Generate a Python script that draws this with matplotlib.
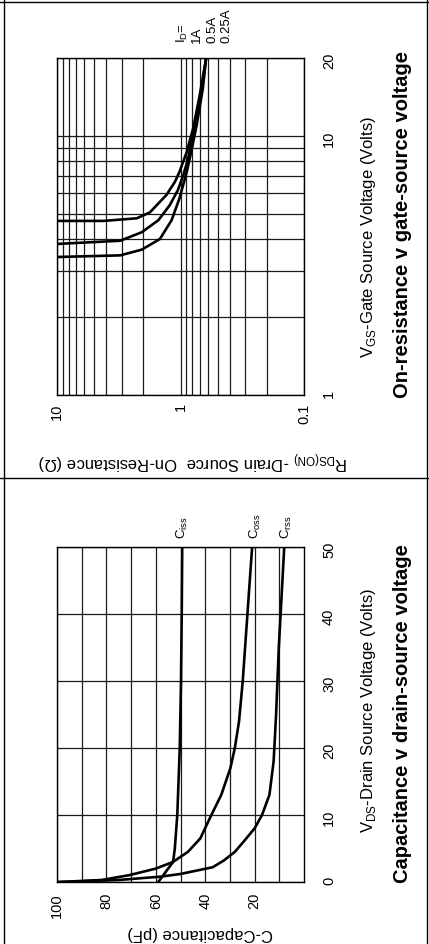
import matplotlib
matplotlib.use("Agg")
import matplotlib.pyplot as plt
from matplotlib.lines import Line2D
from matplotlib.ticker import FixedLocator, NullFormatter

plt.rcParams['font.family'] = ['Liberation Sans', 'DejaVu Sans']
plt.rcParams['mathtext.fontset'] = 'custom'
plt.rcParams['mathtext.rm'] = 'Liberation Sans'

# ---- Capacitance vs drain-source voltage ----
vds_ciss = [0, 1, 2, 3, 5, 10, 20, 30, 40, 50]
ciss = [59, 57, 55, 53, 52.3, 51.3, 50.3, 49.8, 49.5, 49.3]
vds_coss = [0, 0.3, 1, 2, 3, 4.5, 6.5, 10, 13, 17, 20, 24, 30, 40, 50]
coss = [99, 82, 71, 60, 53, 47, 42, 37.5, 33.5, 29.8, 28, 26.3, 24.8, 22.9, 21]
vds_crss = [0, 0.3, 0.8, 1.2, 2.2, 3.2, 4.5, 6, 8, 10, 13, 18, 25, 35, 50]
crss = [99, 75, 58, 50, 37, 32.5, 28, 24.5, 20, 17, 14, 12.3, 11.3, 10.2, 8]
cap_ticks = [100, 80, 60, 40, 20]
vds_ticks = [0, 10, 20, 30, 40, 50]

# ---- On-resistance vs gate-source voltage ----
vgs_1a = [4.70, 4.70, 4.81, 5.07, 5.92, 6.65, 7.26, 8.67, 10.7, 14.3, 20]
rds_1a = [10, 4.2, 2.26, 1.77, 1.30, 1.11, 1.02, 0.89, 0.79, 0.70, 0.62]
vgs_05a = [3.83, 3.94, 4.25, 4.73, 5.41, 6.18, 7.06, 8.12, 11.0, 14.7, 20]
rds_05a = [10, 3.08, 2.06, 1.51, 1.22, 1.05, 0.95, 0.87, 0.77, 0.68, 0.62]
vgs_025a = [3.41, 3.46, 3.64, 4.0, 4.73, 5.74, 7.26, 8.67, 11.0, 15.2, 20]
rds_025a = [10, 3.08, 2.06, 1.47, 1.18, 1.02, 0.89, 0.82, 0.74, 0.66, 0.62]
rds_ticks = [10, 1, 0.1]
rds_tick_labels = ["10", "1", "0.1"]
vgs_ticks = [1, 10, 20]
id_labels = ["I$_{\\mathregular{D}}$=", "1A", "0.5A", "0.25A"]

W, H = 429, 944
fig = plt.figure(figsize=(W / 100, H / 100), dpi=100)

def fx(px):
    return px / W

def fy(py):
    return 1 - py / H

GRID = dict(color='#1a1a1a', linewidth=0.9)
TICKFS = 10.5
LABFS = 12

# ---------- top panel: on-resistance ----------
axr = fig.add_axes([fx(57), fy(395), fx(304) - fx(57), fy(58) - fy(395)])
axr.set_xscale('log')
axr.set_yscale('log')
axr.set_xlim(10, 0.1)
axr.set_ylim(1, 20)
axr.xaxis.set_major_locator(FixedLocator(rds_ticks))
axr.set_xticklabels(rds_tick_labels)
axr.xaxis.set_minor_locator(FixedLocator([m * d for d in (0.1, 1) for m in range(2, 10)]))
axr.xaxis.set_minor_formatter(NullFormatter())
axr.yaxis.set_major_locator(FixedLocator(vgs_ticks))
axr.set_yticklabels([str(v) for v in vgs_ticks])
axr.yaxis.set_minor_locator(FixedLocator(list(range(2, 10))))
axr.yaxis.set_minor_formatter(NullFormatter())
axr.grid(True, which='both', **GRID)
axr.yaxis.tick_right()
axr.tick_params(which='both', length=0)
axr.tick_params(axis='x', pad=6, labelsize=TICKFS, labelrotation=90)
axr.tick_params(axis='y', pad=13, labelsize=TICKFS, labelrotation=90)
for s in axr.spines.values():
    s.set_linewidth(1.0)
for r, v in ((rds_1a, vgs_1a), (rds_05a, vgs_05a), (rds_025a, vgs_025a)):
    axr.plot(r, v, color='black', lw=1.9, solid_joinstyle='round')

# ---------- bottom panel: capacitance ----------
axc = fig.add_axes([fx(57), fy(882), fx(304) - fx(57), fy(547) - fy(882)])
axc.set_xlim(100, 0)
axc.set_ylim(0, 50)
axc.xaxis.set_major_locator(FixedLocator(cap_ticks))
axc.xaxis.set_minor_locator(FixedLocator([90, 70, 50, 30, 10]))
axc.xaxis.set_minor_formatter(NullFormatter())
axc.yaxis.set_major_locator(FixedLocator(vds_ticks))
axc.grid(True, which='both', **GRID)
axc.yaxis.tick_right()
axc.tick_params(which='both', length=0)
axc.tick_params(axis='x', pad=8, labelsize=TICKFS, labelrotation=90)
axc.tick_params(axis='y', pad=13, labelsize=TICKFS, labelrotation=90)
for s in axc.spines.values():
    s.set_linewidth(1.0)
axc.plot(ciss, vds_ciss, color='black', lw=1.9)
axc.plot(coss, vds_coss, color='black', lw=1.9)
axc.plot(crss, vds_crss, color='black', lw=1.9)

# ---------- texts ----------
fig.text(fx(402), fy(224), "On-resistance v gate-source voltage", rotation=90,
         fontsize=14.5, fontweight='bold', ha='center', va='center')
fig.text(fx(402), fy(714), "Capacitance v drain-source voltage", rotation=90,
         fontsize=14.5, fontweight='bold', ha='center', va='center')
fig.text(fx(368), fy(237), "V$_{\\mathregular{GS}}$-Gate Source Voltage (Volts)", rotation=90,
         fontsize=LABFS, ha='center', va='center')
fig.text(fx(368), fy(710), "V$_{\\mathregular{DS}}$-Drain Source Voltage (Volts)", rotation=90,
         fontsize=LABFS, ha='center', va='center')
fig.text(fx(193), fy(460), "R$_{\\mathregular{DS(ON)}}$ -Drain Source  On-Resistance (\u03a9)",
         rotation=180, fontsize=LABFS, ha='center', va='center')
fig.text(fx(200), fy(934), "C-Capacitance (pF)", rotation=180, fontsize=LABFS,
         ha='center', va='center')

for lbl, x in zip(id_labels, [182, 197, 212, 227]):
    fig.text(fx(x), fy(43), lbl, rotation=90, rotation_mode='anchor',
             ha='left', va='center', fontsize=9.5)
for lbl, x in zip(["C$_{\\mathregular{iss}}$", "C$_{\\mathregular{oss}}$", "C$_{\\mathregular{rss}}$"],
                  [182, 255, 286]):
    fig.text(fx(x), fy(539), lbl, rotation=90, rotation_mode='anchor',
             ha='left', va='center', fontsize=9.5)

# ---------- frame lines ----------
for (x0, y0, x1, y1) in [(4, 0, 4, 944), (0, 2, 429, 2), (427, 0, 427, 944), (0, 478, 429, 478)]:
    fig.add_artist(Line2D([fx(x0), fx(x1)], [fy(y0), fy(y1)], color='black', lw=1.0,
                          transform=fig.transFigure))

fig.savefig("out.png", dpi=100)
